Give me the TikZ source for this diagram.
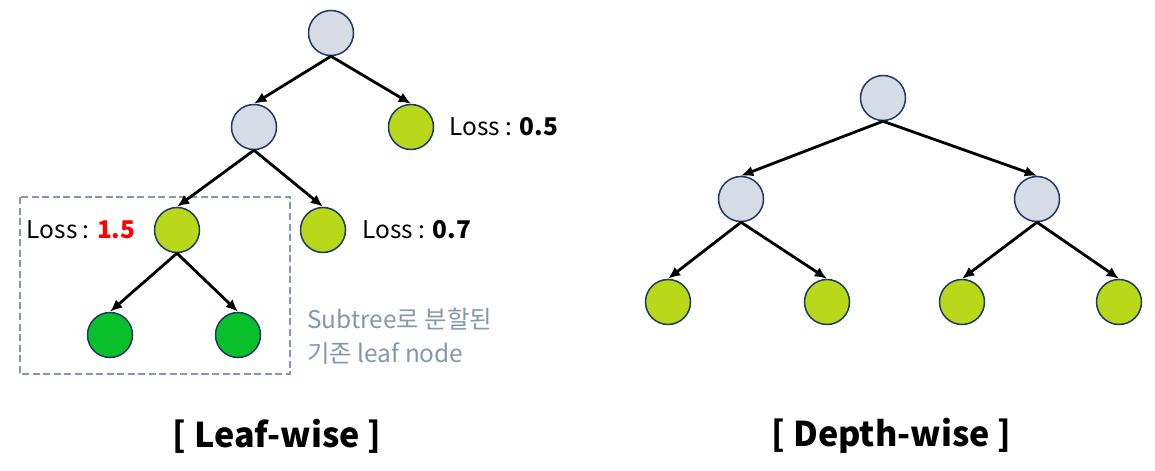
\documentclass[tikz,border=0pt]{standalone}
\usepackage{fontspec}
\setmainfont{Noto Sans CJK KR}
\usepackage{xcolor}
\usepackage{tikz}
\usetikzlibrary{shapes,arrows.meta}
\usetikzlibrary{positioning}
\definecolor{nodegray}{RGB}{214,220,229}
\definecolor{leafyellow}{RGB}{186,216,26}
\definecolor{leafgreen}{RGB}{10,192,42}
\definecolor{navyline}{RGB}{31,56,100}
\definecolor{subgray}{RGB}{132,151,176}
\tikzstyle{tnode} = [circle, draw=navyline, line width=0.85pt, minimum size=0.9cm, inner sep=0pt, on grid]
\tikzstyle{inner} = [tnode, fill=nodegray]
\tikzstyle{leafy} = [tnode, fill=leafyellow]
\tikzstyle{leafg} = [tnode, fill=leafgreen]
\tikzstyle{lossl} = [inner sep=0pt, font=\fontsize{13.9}{16}\selectfont]
\tikzstyle{title} = [inner sep=0pt, font=\fontsize{19.4}{22}\selectfont\bfseries]
\tikzstyle{line} = [draw, -{Latex[length=7pt,width=6pt]}, line width=1.6pt]
\tikzstyle{subbox} = [draw=subgray, line width=0.8pt, dash pattern=on 4pt off 2pt]

\begin{document}
\begin{tikzpicture}
    \useasboundingbox (0,0) rectangle (23.1,-9.42);
    % Leaf-wise tree
    \node [inner] (lroot) at (6.62,-0.66) {};
    \node [inner, below left=1.88cm and 1.54cm of lroot] (la) {};
    \node [leafy, below right=1.88cm and 1.60cm of lroot] (lb) {};
    \node [leafy, below left=2.06cm and 1.54cm of la] (lc) {};
    \node [leafy, below right=2.06cm and 1.38cm of la] (ld) {};
    \node [leafg, below left=2.10cm and 1.34cm of lc] (le) {};
    \node [leafg, below right=2.10cm and 1.22cm of lc] (lf) {};
    % Loss labels
    \node [lossl, right=0.3cm of lb] (lossb) {Loss : \textbf{0.5}};
    \node [lossl, left=0.36cm of lc] (lossc) {Loss : \textbf{\color{red}1.5}};
    \node [lossl, right=0.32cm of ld] (lossd) {Loss : \textbf{0.7}};
    % Subtree box
    \draw [subbox] (0.4,-3.94) rectangle (5.8,-7.48);
    \node [anchor=west, inner sep=0pt, align=left, text=subgray,
        font=\fontsize{13.9}{19.3}\selectfont] (subtxt) at (6.14,-6.72) {Subtree로 분할된\\기존 leaf node};
    % Depth-wise tree
    \node [inner] (rroot) at (17.66,-1.96) {};
    \node [inner, below left=2.02cm and 2.84cm of rroot] (ra) {};
    \node [inner, below right=2.02cm and 3.08cm of rroot] (rb) {};
    \node [leafy, below left=2.06cm and 1.46cm of ra] (rc) {};
    \node [leafy, below right=2.06cm and 1.72cm of ra] (rd) {};
    \node [leafy, below left=2.06cm and 1.50cm of rb] (re) {};
    \node [leafy, below right=2.06cm and 1.64cm of rb] (rf) {};
    % Titles
    \node [title] (ltitle) at (5.54,-8.72) {[ Leaf-wise ]};
    \node [title] (rtitle) at (17.83,-8.72) {[ Depth-wise ]};
    % Draw edges
    \path [line] (lroot.south) -- (la.north);
    \path [line] (lroot.south) -- (lb.north);
    \path [line] (la.south) -- (lc.north);
    \path [line] (la.south) -- (ld.north);
    \path [line] (lc.south) -- (le.north);
    \path [line] (lc.south) -- (lf.north);
    \path [line] (rroot.south) -- (ra.north);
    \path [line] (rroot.south) -- (rb.north);
    \path [line] (ra.south) -- (rc.north);
    \path [line] (ra.south) -- (rd.north);
    \path [line] (rb.south) -- (re.north);
    \path [line] (rb.south) -- (rf.north);
\end{tikzpicture}
\end{document}
